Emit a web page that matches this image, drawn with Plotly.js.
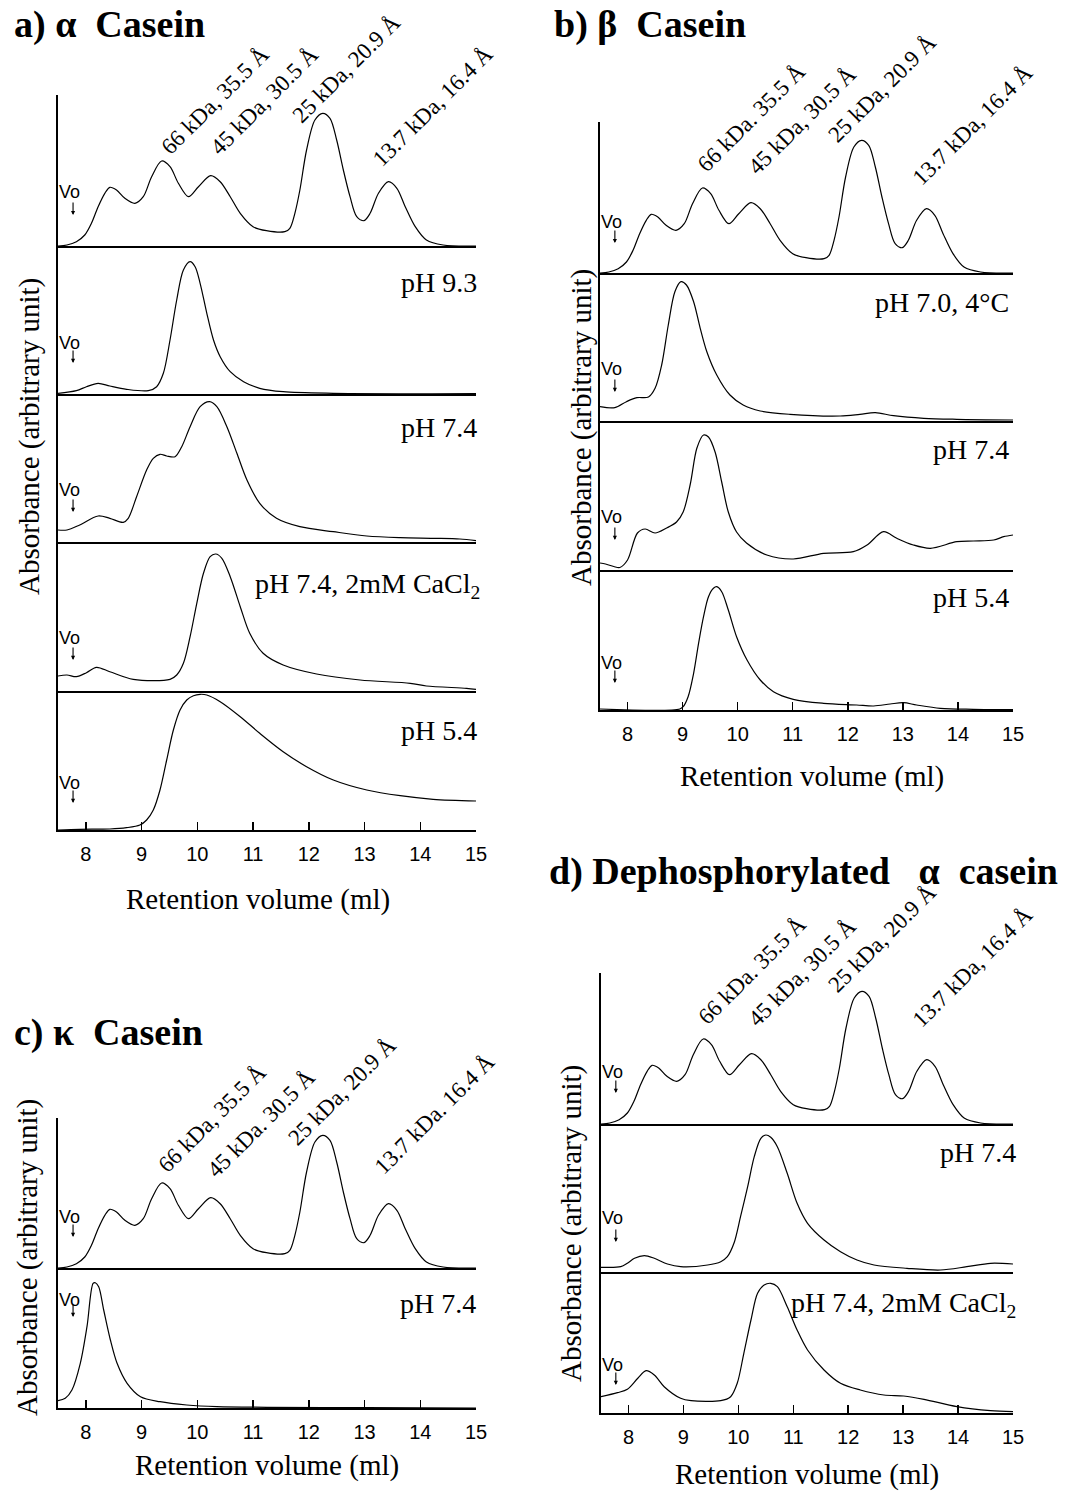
<!DOCTYPE html>
<html>
<head>
<meta charset="utf-8">
<script src="https://cdn.plot.ly/plotly-3.0.1.min.js"></script>
<style>
html, body { margin: 0; padding: 0; background: #fff; }
#chart { width: 1071px; height: 1492px; }
</style>
</head>
<body>
<div id="chart"></div>
<script>
// ---- Gel-filtration elution profiles (retention volume in ml, absorbance in arbitrary units) ----

const tickVolumes = [8, 9, 10, 11, 12, 13, 14, 15];
const voidVolume = 7.77;

// Calibration standards (same run shown in every panel)
const standardVol = [7.5, 7.66, 7.83, 7.98, 8.10, 8.22, 8.34, 8.43, 8.55, 8.70, 8.88, 9.03, 9.18, 9.36, 9.51, 9.66, 9.84, 10.02, 10.24, 10.41, 10.59, 10.77, 11.00, 11.24, 11.57, 11.66, 11.75, 11.84, 11.96, 12.11, 12.25, 12.38, 12.50, 12.62, 12.74, 12.86, 12.99, 13.10, 13.25, 13.43, 13.58, 13.73, 13.91, 14.11, 14.41, 15.0];
const standardAbs = [0, 1, 4.3, 11, 22.7, 39.3, 52.7, 58.7, 56, 47.7, 42.7, 49.3, 69.3, 85, 79.3, 62.7, 49.3, 59.3, 70.3, 64.3, 49.3, 32.7, 19.3, 15.3, 14.3, 17.7, 32.7, 56, 96, 126, 132.7, 127.7, 106, 76, 49.3, 29.3, 25.3, 32.7, 52.7, 64.3, 57.7, 39.3, 19.3, 6, 1, 0];
const standardLabelsA = ['66 kDa, 35.5 Å', '45 kDa, 30.5 Å', '25 kDa, 20.9 Å', '13.7 kDa, 16.4 Å'];
const standardLabelsB = ['66 kDa. 35.5 Å', '45 kDa, 30.5 Å', '25 kDa, 20.9 Å', '13.7 kDa, 16.4 Å'];
const standardLabelsC = ['66 kDa, 35.5 Å', '45 kDa. 30.5 Å', '25 kDa, 20.9 Å', '13.7 kDa. 16.4 Å'];
const standardLabelsD = ['66 kDa. 35.5 Å', '45 kDa, 30.5 Å', '25 kDa, 20.9 Å', '13.7 kDa, 16.4 Å'];

// a) alpha casein
const alphaPH93Vol = [7.5, 7.83, 8.01, 8.22, 8.43, 8.73, 9.12, 9.27, 9.39, 9.51, 9.63, 9.75, 9.87, 9.96, 10.05, 10.17, 10.29, 10.41, 10.59, 10.83, 11.12, 11.54, 12.44, 15.0];
const alphaPH93Abs = [0.7, 3.3, 7.3, 10.7, 8, 4.7, 3.3, 7.3, 20.7, 54, 94, 124, 132.3, 127.3, 110.7, 80.7, 54, 37.3, 22.3, 12.3, 5.7, 2.3, 0.7, 0.3];
const alphaPH74Vol = [7.5, 7.66, 7.89, 8.22, 8.43, 8.67, 8.76, 8.91, 9.09, 9.21, 9.33, 9.45, 9.60, 9.72, 9.87, 10.05, 10.22, 10.35, 10.53, 10.71, 10.89, 11.12, 11.42, 11.84, 12.44, 13.04, 13.64, 14.23, 14.71, 15.0];
const alphaPH74Abs = [12, 12, 17, 26, 23.7, 19.7, 23.7, 45.3, 72, 83.7, 87.7, 86, 85.3, 95.3, 115.3, 135.3, 140.3, 135.3, 115.3, 88.7, 62, 38.7, 23.7, 15.3, 10.3, 6, 4.3, 3.7, 3, 1.3];
const alphaCaVol = [7.5, 7.66, 7.83, 8.01, 8.19, 8.43, 8.85, 9.51, 9.63, 9.75, 9.87, 9.99, 10.11, 10.23, 10.33, 10.44, 10.59, 10.77, 10.94, 11.18, 11.54, 12.14, 12.92, 13.82, 14.11, 14.83, 15.0];
const alphaCaAbs = [15, 16, 14.3, 18.3, 23.7, 19.3, 11.7, 11.7, 16, 27.7, 54.3, 87.7, 117.7, 134.3, 137, 132.7, 114.3, 84.3, 57.7, 37.7, 26, 17, 11, 7.7, 5, 2.7, 1.7];
const alphaPH54Vol = [7.5, 7.89, 8.43, 8.73, 8.97, 9.09, 9.21, 9.33, 9.45, 9.57, 9.69, 9.81, 9.93, 10.05, 10.17, 10.41, 10.77, 11.12, 11.54, 11.96, 12.44, 13.04, 13.64, 14.23, 15.0];
const alphaPH54Abs = [0, 0.7, 1, 2.3, 5, 10, 20, 40, 70, 100, 120, 130, 134.3, 135.7, 135, 128.3, 113.3, 96.7, 78.3, 63.3, 50, 40, 34.3, 30.7, 29];

// b) beta casein
const betaPH70Vol = [7.5, 7.77, 7.98, 8.17, 8.38, 8.50, 8.62, 8.74, 8.86, 8.97, 9.07, 9.20, 9.32, 9.44, 9.62, 9.86, 10.10, 10.41, 10.95, 11.86, 12.22, 12.50, 12.83, 13.38, 13.98, 15.0];
const betaPH70Abs = [14.3, 13.3, 19.3, 23.3, 24, 32.7, 56, 96, 129.3, 139.3, 136, 119.3, 92.7, 69.3, 46, 26, 16, 10, 6.7, 5, 6.7, 8.3, 5.3, 2.7, 1.7, 1];
const betaPH74Vol = [7.5, 7.6, 7.75, 7.86, 8.0, 8.18, 8.32, 8.5, 8.71, 8.89, 9.01, 9.14, 9.26, 9.38, 9.47, 9.59, 9.71, 9.83, 9.98, 10.16, 10.53, 11.01, 11.56, 12.10, 12.35, 12.65, 12.89, 13.19, 13.50, 13.98, 14.28, 14.65, 14.83, 15.0];
const betaPH74Abs = [7, 6, 3.5, 2.5, 10, 37, 41, 37, 42, 48, 58, 86, 122, 135, 133, 118, 88, 58, 38, 27, 15, 11, 16.7, 18.3, 25, 38.3, 31.7, 25, 21.7, 28.3, 29, 30, 33.3, 35];
const betaPH54Vol = [7.5, 8.95, 9.01, 9.10, 9.20, 9.29, 9.38, 9.47, 9.56, 9.62, 9.71, 9.83, 9.98, 10.17, 10.41, 10.65, 11.01, 11.56, 12.16, 12.47, 12.77, 13.01, 13.25, 13.68, 14.28, 15.0];
const betaPH54Abs = [1, 1, 3.3, 13.3, 36.7, 66.7, 93.3, 113.3, 121.7, 123.3, 118.3, 100, 73.3, 50, 30, 18.3, 10.7, 6.7, 5, 4, 6, 7.3, 5, 1.7, 0.7, 0.3];

// c) kappa casein
const kappaPH74Vol = [7.5, 7.63, 7.75, 7.90, 8.02, 8.13, 8.17, 8.23, 8.32, 8.44, 8.56, 8.74, 8.98, 9.33, 9.81, 10.35, 11.25, 13.04, 15.0];
const kappaPH74Abs = [7.3, 9.7, 18, 44.7, 81.3, 124.7, 125.3, 121.3, 98, 68, 44.7, 24.7, 11.3, 6.3, 3, 1.3, 0.7, 0.3, 0];

// d) dephosphorylated alpha casein
const dephosPH74Vol = [7.5, 7.86, 7.98, 8.11, 8.29, 8.47, 8.71, 8.95, 9.44, 9.68, 9.80, 9.92, 10.04, 10.17, 10.29, 10.41, 10.50, 10.59, 10.71, 10.89, 11.07, 11.26, 11.56, 11.86, 12.16, 12.47, 13.07, 13.68, 14.16, 14.59, 15.0];
const dephosPH74Abs = [4.7, 5.3, 8.7, 13.7, 16.3, 13.7, 8, 5.3, 7, 10.3, 15.3, 28.7, 55.3, 85.3, 115.3, 133.7, 137, 134.7, 125.3, 98.7, 68.7, 48.7, 32, 20.3, 12, 7, 3.7, 2, 5.3, 8.7, 8];
const dephosCaVol = [7.5, 7.80, 7.98, 8.17, 8.32, 8.47, 8.65, 8.95, 9.14, 9.68, 9.86, 9.98, 10.10, 10.23, 10.35, 10.47, 10.59, 10.71, 10.89, 11.07, 11.26, 11.56, 11.86, 12.22, 12.65, 13.01, 13.38, 13.98, 14.59, 15.0];
const dephosCaAbs = [16.3, 20.3, 23.7, 34.7, 42.3, 38, 26.3, 14.7, 12.3, 12.3, 16.3, 29.7, 59.7, 93, 119.7, 128, 129.7, 126.3, 106.3, 83, 63, 43, 29.7, 23, 18, 17, 13.7, 6.3, 2.3, 1.3];

// ---- Page geometry (pixels) ----
const W = 1071, H = 1492;
const px = x => x / W;
const py = y => 1 - y / H;

const SERIF = 'Liberation Serif, Times New Roman, serif';
const SANS = 'Liberation Sans, Arial, sans-serif';

// Each panel: horizontal extent, stacked subplot edges (top..bottom), curves, label placement
const panels = [
  {
    title: 'a) α\u00a0 Casein', titleAt: [12, 25],
    left: 58, right: 476, edges: [95, 246, 394, 542, 691, 830],
    xTitleAt: [258, 900], yTitleAt: [29, 437],
    stdLabels: standardLabelsA, stdLabelAt: [[215, 100], [265, 101], [347, 69], [433, 107]],
    curves: [
      { vol: standardVol, abs: standardAbs, vo: [54, 31] },
      { vol: alphaPH93Vol, abs: alphaPH93Abs, vo: [51, 31], label: 'pH 9.3', labelAt: [479, 283] },
      { vol: alphaPH74Vol, abs: alphaPH74Abs, vo: [52, 30], label: 'pH 7.4', labelAt: [479, 428] },
      { vol: alphaCaVol, abs: alphaCaAbs, vo: [53, 31], label: 'pH 7.4, 2mM CaCl<sub>2</sub>', labelAt: [482, 585] },
      { vol: alphaPH54Vol, abs: alphaPH54Abs, vo: [47, 27], label: 'pH 5.4', labelAt: [479, 730] }
    ]
  },
  {
    title: 'b) β\u00a0 Casein', titleAt: [552, 25],
    left: 600, right: 1013, edges: [122, 273, 421, 570, 710],
    xTitleAt: [812, 777], yTitleAt: [582, 428],
    stdLabels: standardLabelsB, stdLabelAt: [[752, 118], [802, 120], [882, 88], [972, 125]],
    curves: [
      { vol: standardVol, abs: standardAbs, vo: [51, 30] },
      { vol: betaPH70Vol, abs: betaPH70Abs, vo: [52, 29], label: 'pH 7.0, 4°C', labelAt: [1011, 302] },
      { vol: betaPH74Vol, abs: betaPH74Abs, vo: [53, 30], label: 'pH 7.4', labelAt: [1011, 450] },
      { vol: betaPH54Vol, abs: betaPH54Abs, vo: [47, 27], label: 'pH 5.4', labelAt: [1011, 598] }
    ]
  },
  {
    title: 'c) κ\u00a0 Casein', titleAt: [12, 1032],
    left: 58, right: 476, edges: [1118, 1268, 1408],
    xTitleAt: [267, 1465], yTitleAt: [27, 1258],
    stdLabels: standardLabelsC, stdLabelAt: [[212, 1118], [261, 1123], [342, 1091], [434, 1114]],
    curves: [
      { vol: standardVol, abs: standardAbs, vo: [51, 31] },
      { vol: kappaPH74Vol, abs: kappaPH74Abs, vo: [108, 91], label: 'pH 7.4', labelAt: [478, 1303] }
    ]
  },
  {
    title: 'd) Dephosphorylated\u00a0\u00a0 α\u00a0 casein', titleAt: [547, 872],
    left: 601, right: 1013, edges: [973, 1124, 1272, 1413],
    xTitleAt: [807, 1474], yTitleAt: [571, 1224],
    stdLabels: standardLabelsD, stdLabelAt: [[752, 970], [802, 972], [882, 938], [972, 967]],
    curves: [
      { vol: standardVol, abs: standardAbs, vo: [52, 31] },
      { vol: dephosPH74Vol, abs: dephosPH74Abs, vo: [54, 30], label: 'pH 7.4', labelAt: [1018, 1152] },
      { vol: dephosCaVol, abs: dephosCaAbs, vo: [48, 28], label: 'pH 7.4, 2mM CaCl<sub>2</sub>', labelAt: [1018, 1304] }
    ]
  }
];

const traces = [];
const annotations = [];
const layout = {
  width: W, height: H,
  margin: { l: 0, r: 0, t: 0, b: 0 },
  paper_bgcolor: '#fff', plot_bgcolor: 'rgba(0,0,0,0)',
  showlegend: false,
  font: { family: SERIF, color: '#000' }
};

let n = 0;
panels.forEach(p => {
  const count = p.edges.length - 1;
  p.curves.forEach((c, k) => {
    n += 1;
    const sfx = n === 1 ? '' : String(n);
    const top = p.edges[k], bot = p.edges[k + 1];
    const isBottom = k === count - 1;

    layout['xaxis' + sfx] = {
      domain: [px(p.left), px(p.right)], anchor: 'y' + sfx,
      range: [7.5, 15], fixedrange: true,
      showline: true, linecolor: '#000', linewidth: 2,
      showgrid: false, zeroline: false,
      ticks: isBottom ? 'inside' : '', ticklen: 8, tickwidth: 1.5, tickcolor: '#000',
      tickmode: 'array', tickvals: tickVolumes, ticktext: tickVolumes.map(String),
      showticklabels: isBottom, ticklabelstandoff: 5,
      tickfont: { family: SANS, size: 20, color: '#000' }
    };
    layout['yaxis' + sfx] = {
      domain: [py(bot), py(top)], anchor: 'x' + sfx,
      range: [0, bot - top], fixedrange: true,
      showline: true, linecolor: '#000', linewidth: 2,
      showgrid: false, zeroline: false, ticks: '', showticklabels: false
    };

    traces.push({
      x: c.vol, y: c.abs, xaxis: 'x' + sfx, yaxis: 'y' + sfx,
      type: 'scatter', mode: 'lines', hoverinfo: 'skip',
      line: { color: '#000', width: 1.2, shape: 'spline', smoothing: 0.9 }
    });

    // void volume marker: label with a small downward arrow
    annotations.push({
      xref: 'x' + sfx, yref: 'y' + sfx, x: voidVolume, y: c.vo[0], xshift: -3.5,
      text: 'Vo', showarrow: false, xanchor: 'center', yanchor: 'middle',
      font: { family: SANS, size: 18, color: '#000' }
    });
    annotations.push({
      xref: 'x' + sfx, yref: 'y' + sfx, x: voidVolume, y: c.vo[1],
      axref: 'pixel', ayref: 'pixel', ax: 0, ay: -15,
      text: ' ', showarrow: true, arrowhead: 2, arrowsize: 0.75, arrowwidth: 1.1, arrowcolor: '#000',
      font: { size: 2 }
    });

    if (c.label) {
      annotations.push({
        xref: 'paper', yref: 'paper', x: px(c.labelAt[0]), y: py(c.labelAt[1]),
        text: c.label, showarrow: false, xanchor: 'right', yanchor: 'middle',
        font: { family: SERIF, size: 28, color: '#000' }
      });
    }
  });

  // molecular weight / Stokes radius labels of the standards
  p.stdLabels.forEach((t, i) => {
    annotations.push({
      xref: 'paper', yref: 'paper', x: px(p.stdLabelAt[i][0]), y: py(p.stdLabelAt[i][1]),
      text: t, textangle: -45, showarrow: false, xanchor: 'center', yanchor: 'middle',
      font: { family: SERIF, size: 23, color: '#000' }
    });
  });

  annotations.push({
    xref: 'paper', yref: 'paper', x: px(p.titleAt[0]), y: py(p.titleAt[1]),
    text: '<b>' + p.title + '</b>', showarrow: false, xanchor: 'left', yanchor: 'middle',
    font: { family: SERIF, size: 38, color: '#000' }
  });
  annotations.push({
    xref: 'paper', yref: 'paper', x: px(p.xTitleAt[0]), y: py(p.xTitleAt[1]),
    text: 'Retention volume (ml)', showarrow: false, xanchor: 'center', yanchor: 'middle',
    font: { family: SERIF, size: 29, color: '#000' }
  });
  annotations.push({
    xref: 'paper', yref: 'paper', x: px(p.yTitleAt[0]), y: py(p.yTitleAt[1]),
    text: 'Absorbance (arbitrary unit)', textangle: -90, showarrow: false,
    xanchor: 'center', yanchor: 'middle',
    font: { family: SERIF, size: 29, color: '#000' }
  });
});

layout.annotations = annotations;

Plotly.newPlot('chart', traces, layout, { staticPlot: true, displayModeBar: false });
</script>
</body>
</html>
